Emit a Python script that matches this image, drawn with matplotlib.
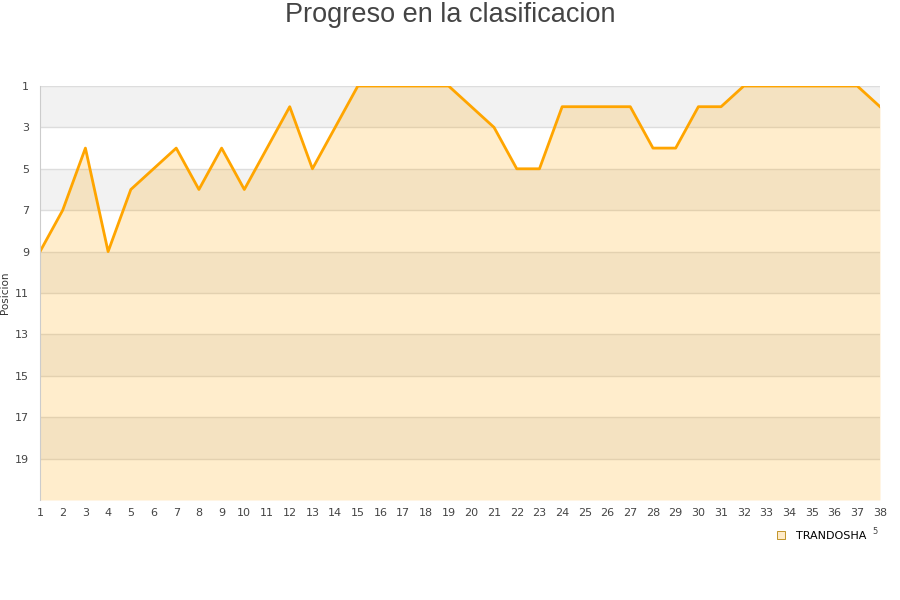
import matplotlib
matplotlib.use("Agg")
import matplotlib.pyplot as plt
from matplotlib.lines import Line2D

jornadas = list(range(1, 39))
posiciones = [9, 7, 4, 9, 6, 5, 4, 6, 4, 6, 4, 2, 5, 3, 1, 1, 1, 1, 1, 2,
              3, 5, 5, 2, 2, 2, 2, 4, 4, 2, 2, 1, 1, 1, 1, 1, 1, 2]
yticks = [1, 3, 5, 7, 9, 11, 13, 15, 17, 19]
serie = "TRANDOSHA"
titulo = "Progreso en la clasificacion"

fig = plt.figure(figsize=(9, 6), dpi=100)
ax = fig.add_axes([40/900, 100/600, 840/900, 414/600])

# bands
for lo in range(1, 21, 4):
    ax.axhspan(lo, lo + 2, color="#f2f2f2", zorder=0, lw=0)
for y in range(1, 21, 2):
    ax.axhline(y, color="#dddddd", lw=1, zorder=0.5)

ax.fill_between(jornadas, posiciones, 21, color="#FFA500", alpha=0.2, lw=0, zorder=1)
ax.plot(jornadas, posiciones, color="#FFA500", lw=2, zorder=2)

ax.set_xlim(1, 38)
ax.set_ylim(21, 1)
ax.set_yticks(yticks)
ax.set_xticks(jornadas)
ax.tick_params(axis="both", length=0, labelsize=8, colors="#444444", pad=6)
ax.tick_params(axis="y", pad=8)
for s in ["top", "right", "bottom"]:
    ax.spines[s].set_visible(False)
ax.spines["left"].set_color("#cccccc")
ax.set_ylabel("Posicion", fontsize=7.5, color="#333333")
ax.yaxis.set_label_coords(-30/840, 0.5)

fig.text(0.5, 0.975, titulo, ha="center", va="center", fontsize=19.5,
         color="#444444", family="Liberation Sans")

handle = Line2D([], [], marker="s", linestyle="none", markersize=6,
                markerfacecolor="#FFEBC8", markeredgecolor="#B8860B", markeredgewidth=0.6)
fig.legend([handle], [serie], loc="center left", bbox_to_anchor=(765/900, 1 - 536/600),
           frameon=False, fontsize=8, handletextpad=0.4, borderaxespad=0)
fig.text(875/900, 1 - 532/600, "5", fontsize=6, color="#444444", ha="center", va="center")

fig.savefig("out.png", dpi=100)
